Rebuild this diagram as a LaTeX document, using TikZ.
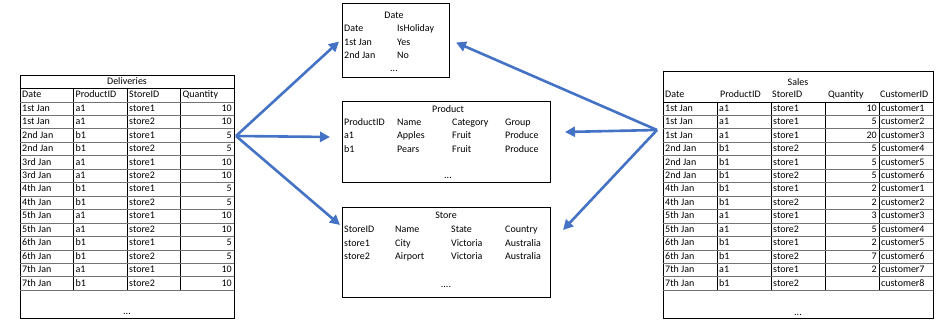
\documentclass[tikz,border=0pt]{standalone}
\usepackage{fontspec}
\setmainfont{Carlito}
\usetikzlibrary{arrows.meta,calc,positioning}
\definecolor{arrblue}{RGB}{68,114,196}

\begin{document}
\begin{tikzpicture}[x=1pt,y=-1pt,font=\fontsize{10}{12}\selectfont,
    box/.style={draw,line width=1pt,anchor=north west,inner sep=0pt},
    cell/.style={anchor=west,inner sep=0pt,text height=7pt,text depth=2pt},
    num/.style={anchor=east,inner sep=0pt,text height=7pt,text depth=2pt},
    ttl/.style={inner sep=0pt,text height=7pt,text depth=2pt},
    rule/.style={black!55,line width=.8pt},
    vrule/.style={black,line width=.7pt},
    a/.style={-{Triangle[length=10pt,width=10pt]},line width=2.6pt,arrblue}]
  \useasboundingbox (0,0) rectangle (947,331);

  % Deliveries table
  \node[box,minimum width=214pt,minimum height=243pt] (deliv) at (20,75) {};
  \node[ttl] (delivt) at (127,82) {Deliveries};
  \draw[line width=1pt] (20,89)--(234,89);
  \foreach \x in {73.5,127,180.5}{\draw[vrule] (\x,89)--(\x,290.3);}
  \foreach \i in {0,...,14}{\draw[rule] (20,102+13.45*\i)--(234,102+13.45*\i);}
  \foreach \t/\x [count=\j] in {Date/22,ProductID/75.5,StoreID/129,Quantity/182.5}
    {\node[cell] (dh\j) at (\x,95.5) {\t};}
  \foreach \d/\p/\s/\q [count=\i] in {1st Jan/a1/store1/10,1st Jan/a1/store2/10,
      2nd Jan/b1/store1/5,2nd Jan/b1/store2/5,3rd Jan/a1/store1/10,3rd Jan/a1/store2/10,
      4th Jan/b1/store1/5,4th Jan/b1/store2/5,5th Jan/a1/store1/10,5th Jan/a1/store2/10,
      6th Jan/b1/store1/5,6th Jan/b1/store2/5,7th Jan/a1/store1/10,7th Jan/b1/store2/10}{
    \pgfmathsetmacro\yy{95.3+13.45*\i}
    \node[cell] (dd\i) at (22,\yy) {\d};
    \node[cell] (dp\i) at (75.5,\yy) {\p};
    \node[cell] (ds\i) at (129,\yy) {\s};
    \node[num] (dq\i) at (232,\yy) {\q};}
  \node[ttl] (delive) at (127,312) {...};

  % Sales table
  \node[box,minimum width=270pt,minimum height=247pt] (sales) at (663,71) {};
  \node[ttl] (salest) at (798,83) {Sales};
  \draw[line width=.8pt] (663,102)--(933,102);
  \foreach \x in {717,771,825,879}{\draw[vrule] (\x,102)--(\x,290.3);}
  \foreach \i in {1,...,14}{\draw[rule] (663,102+13.45*\i)--(933,102+13.45*\i);}
  \foreach \t/\x [count=\j] in {Date/665,ProductID/720,StoreID/772,Quantity/828,CustomerID/880}
    {\node[cell] (sh\j) at (\x,95) {\t};}
  \foreach \d/\p/\s/\q/\c [count=\i] in {1st Jan/a1/store1/10/customer1,
      1st Jan/a1/store1/5/customer2,1st Jan/a1/store1/20/customer3,
      2nd Jan/b1/store2/5/customer4,2nd Jan/b1/store1/5/customer5,
      2nd Jan/b1/store2/5/customer6,4th Jan/b1/store1/2/customer1,
      4th Jan/b1/store2/2/customer2,5th Jan/a1/store1/3/customer3,
      5th Jan/a1/store2/5/customer4,6th Jan/b1/store1/2/customer5,
      6th Jan/b1/store2/7/customer6,7th Jan/a1/store1/2/customer7,
      7th Jan/b1/store2//customer8}{
    \pgfmathsetmacro\yy{95.3+13.45*\i}
    \node[cell] (sd\i) at (665,\yy) {\d};
    \node[cell] (sp\i) at (719,\yy) {\p};
    \node[cell] (ss\i) at (773,\yy) {\s};
    \node[num] (sq\i) at (877,\yy) {\q};
    \node[cell] (sc\i) at (881,\yy) {\c};}
  \node[ttl] (salese) at (798,313) {...};

  % Date
  \node[box,minimum width=107pt,minimum height=74pt] (datebox) at (342,3) {};
  \node[ttl] (datet) at (394,16) {Date};
  \foreach \a/\b [count=\i] in {Date/IsHoliday,1st Jan/Yes,2nd Jan/No}{
    \node[cell] (da\i) at (344,16+13.4*\i) {\a};
    \node[cell] (db\i) at (397,16+13.4*\i) {\b};}
  \node[ttl] (datee) at (394,69) {...};

  % Product
  \node[box,minimum width=208pt,minimum height=81pt] (prodbox) at (342,101) {};
  \node[ttl] (prodt) at (448,110) {Product};
  \foreach \a/\b/\c/\d [count=\i] in {ProductID/Name/Category/Group,
      a1/Apples/Fruit/Produce,b1/Pears/Fruit/Produce}{
    \node[cell] (pa\i) at (344,110+13.2*\i) {\a};
    \node[cell] (pb\i) at (397,110+13.2*\i) {\b};
    \node[cell] (pc\i) at (452,110+13.2*\i) {\c};
    \node[cell] (pd\i) at (505,110+13.2*\i) {\d};}
  \node[ttl] (prode) at (448,176) {...};

  % Store
  \node[box,minimum width=208pt,minimum height=90pt] (storebox) at (342,207) {};
  \node[ttl] (storet) at (446,216) {Store};
  \foreach \a/\b/\c/\d [count=\i] in {StoreID/Name/State/Country,
      store1/City/Victoria/Australia,store2/Airport/Victoria/Australia}{
    \node[cell] (ta\i) at (344,216+13.8*\i) {\a};
    \node[cell] (tb\i) at (395,216+13.8*\i) {\b};
    \node[cell] (tc\i) at (451,216+13.8*\i) {\c};
    \node[cell] (td\i) at (505,216+13.8*\i) {\d};}
  \node[ttl] (storee) at (446,285) {....};

  % arrows
  \coordinate (dsrc) at (236,136);
  \coordinate (ssrc) at (657,130);
  \coordinate (tdl) at ($(datebox.west)+(-3,1)$);
  \coordinate (tpl) at ($(prodbox.west)+(-12,-5)$);
  \coordinate (tsl) at ($(storebox.north west)+(-2,18)$);
  \coordinate (tdr) at ($(datebox.east)+(6,2)$);
  \coordinate (tpr) at ($(prodbox.east)+(14,-10)$);
  \coordinate (tsr) at ($(storebox.north east)+(12,23)$);
  \draw[a] (dsrc)--(tdl);
  \draw[a] (dsrc)--(tpl);
  \draw[a] (dsrc)--(tsl);
  \draw[a] (ssrc)--(tdr);
  \draw[a] (ssrc)--(tpr);
  \draw[a] (ssrc)--(tsr);
\end{tikzpicture}
\end{document}
